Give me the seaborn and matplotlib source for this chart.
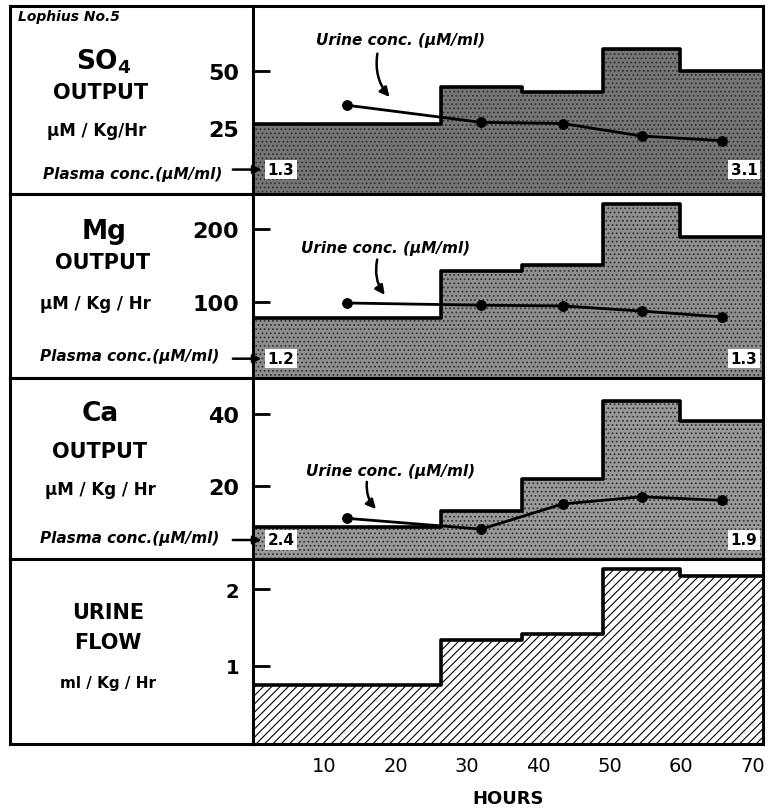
import matplotlib
matplotlib.use("Agg")
import matplotlib.pyplot as plt
import seaborn as sns

sns.set_style("white")
plt.rcParams["font.family"] = ["DejaVu Sans"]
plt.rcParams["text.color"] = "black"
plt.rcParams["xtick.color"] = "black"
plt.rcParams["ytick.color"] = "black"
plt.rcParams["axes.labelcolor"] = "black"
plt.rcParams["hatch.linewidth"] = 0.8

# collection periods (hours) and urine sample times (period mid-points)
period_edges = [0, 26.4, 37.7, 49.1, 59.9, 71.5]
sample_hours = [13.2, 32.0, 43.4, 54.5, 65.7]
hour_ticks = [10, 20, 30, 40, 50, 60, 70]

so4_output = [27, 43, 41, 59.5, 50]
so4_urine = [35, 27.5, 27, 21.5, 19.5]
so4_plasma = ["1.3", "3.1"]
so4_ticks = [25, 50]

mg_output = [79, 143, 151, 234, 189]
mg_urine = [99, 96, 95, 88, 80]
mg_plasma = ["1.2", "1.3"]
mg_ticks = [100, 200]

ca_output = [8.6, 13, 22, 43.5, 38]
ca_urine = [11, 8, 15, 17, 16]
ca_plasma = ["2.4", "1.9"]
ca_ticks = [20, 40]

urine_flow = [0.74, 1.34, 1.41, 2.27, 2.18]
flow_ticks = [1, 2]

W, H = 778, 812


def fx(px):
    return px / W


def fy(py):
    return 1 - py / H


fig = plt.figure(figsize=(W / 100, H / 100), dpi=100)

panel_px = [(7, 195), (195, 379), (379, 560), (560, 745)]
ylims = [(-3.9, 78.5), (-3.3, 247.7), (-0.3, 50), (-0.03, 2.40)]
outputs = [so4_output, mg_output, ca_output, urine_flow]
urines = [so4_urine, mg_urine, ca_urine, None]
plasmas = [so4_plasma, mg_plasma, ca_plasma, None]
ticks = [so4_ticks, mg_ticks, ca_ticks, flow_ticks]
fills = ["#767676", "#909090", "#9a9a9a", None]

axes = []
for i, (top, bot) in enumerate(panel_px):
    lab = fig.add_axes([fx(10), fy(bot), fx(254) - fx(10), (bot - top) / H])
    lab.set_xticks([])
    lab.set_yticks([])
    for s in lab.spines.values():
        s.set_linewidth(2.2)
        s.set_color("black")

    ax = fig.add_axes([fx(253), fy(bot), fx(763) - fx(253), (bot - top) / H])
    ax.set_xlim(0, 71.5)
    ax.set_ylim(*ylims[i])
    for s in ax.spines.values():
        s.set_linewidth(2.2)
        s.set_color("black")

    vals = outputs[i] + [outputs[i][-1]]
    if fills[i] is not None:
        ax.fill_between(period_edges, vals, ylims[i][0], step="post",
                        facecolor=fills[i], edgecolor="#333333", hatch="....",
                        linewidth=0)
    else:
        ax.fill_between(period_edges, vals, ylims[i][0], step="post",
                        facecolor="white", edgecolor="black", hatch="////",
                        linewidth=0)
    ax.step(period_edges, vals, where="post", color="black", lw=2.6)

    if urines[i] is not None:
        sns.lineplot(x=sample_hours, y=urines[i], ax=ax, color="black", lw=2,
                     marker="o", markersize=7, markeredgecolor="black")

    fs = 16 if i < 3 else 14
    ax.set_yticks(ticks[i], labels=[str(t) for t in ticks[i]], fontsize=fs,
                  fontweight="bold")
    ax.tick_params(axis="y", left=True, direction="in", length=12, width=2,
                   pad=10)

    if i < 3:
        ax.set_xticks([])
    else:
        ax.set_xticks(hour_ticks, labels=[str(t) for t in hour_ticks],
                      fontsize=14)
        ax.tick_params(axis="x", bottom=True, direction="in", length=6,
                       width=1.5, pad=9)
        ax.set_xlabel("HOURS", fontsize=13, fontweight="bold", labelpad=10)

    if plasmas[i] is not None:
        by = 0.13 if i == 0 else 0.105
        box = dict(boxstyle="square,pad=0.15", facecolor="white",
                   edgecolor="none")
        ax.text(0.055, by, plasmas[i][0], transform=ax.transAxes, fontsize=11,
                fontweight="bold", ha="center", va="center", bbox=box)
        ax.text(0.963, by, plasmas[i][1], transform=ax.transAxes, fontsize=11,
                fontweight="bold", ha="center", va="center", bbox=box)
        ax.annotate("", xy=(0.022, by), xytext=(-0.045, by),
                    xycoords="axes fraction", annotation_clip=False,
                    arrowprops=dict(arrowstyle="-|>", color="black", lw=1.8,
                                    mutation_scale=12))
    axes.append(ax)

# urine concentration labels with curved arrows
uc_text = [(0.29, 0.82), (0.26, 0.71), (0.27, 0.49)]
uc_tail = [(17.5, 58.8), (17.5, 162), (16.0, 21.9)]
uc_head = [(19.4, 37.7), (18.7, 107), (17.5, 13.0)]
for ax, t, a, b in zip(axes[:3], uc_text, uc_tail, uc_head):
    ax.text(t[0], t[1], "Urine conc. (\u00b5M/ml)", transform=ax.transAxes,
            fontsize=11, fontweight="bold", style="italic", ha="center",
            va="center")
    ax.annotate("", xy=b, xytext=a,
                arrowprops=dict(arrowstyle="-|>", color="black", lw=1.8,
                                mutation_scale=14,
                                connectionstyle="arc3,rad=0.25"))


# left-hand panel labels
def lbl(x, y, s, size, **kw):
    fig.text(fx(x), fy(y), s, fontsize=size, fontweight="bold", ha="center",
             va="center", **kw)


fig.text(fx(18), fy(17), "Lophius No.5", fontsize=10, fontweight="bold",
         style="italic", ha="left", va="center")
lbl(104, 62, r"SO$_\mathbf{4}$", 19)
lbl(101, 93, "OUTPUT", 15)
lbl(97, 131, "\u00b5M / Kg/Hr", 12)
lbl(133, 175, "Plasma conc.(\u00b5M/ml)", 11, style="italic")

lbl(104, 232, "Mg", 19)
lbl(103, 263, "OUTPUT", 15)
lbl(95, 304, "\u00b5M / Kg / Hr", 12)
lbl(130, 357, "Plasma conc.(\u00b5M/ml)", 11, style="italic")

lbl(100, 414, "Ca", 19)
lbl(100, 452, "OUTPUT", 15)
lbl(100, 490, "\u00b5M / Kg / Hr", 12)
lbl(130, 539, "Plasma conc.(\u00b5M/ml)", 11, style="italic")

lbl(108, 613, "URINE", 15)
lbl(108, 643, "FLOW", 15)
lbl(108, 684, "ml / Kg / Hr", 11)

fig.savefig("out.png", dpi=100)
